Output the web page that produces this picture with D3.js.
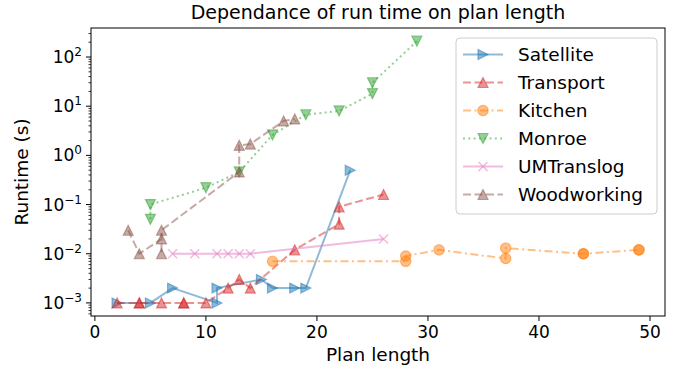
<!DOCTYPE html>
<html><head><meta charset="utf-8">
<script src="https://cdn.jsdelivr.net/npm/d3@7"></script>
<style>body{margin:0;background:#fff}svg{font-family:"DejaVu Sans",sans-serif}</style>
</head><body><svg id="c" width="683" height="373"></svg>
<script>
const seriesNames = ["Satellite","Transport","Kitchen","Monroe","UMTranslog","Woodworking"];
const satellite = [[2,0.001],[5,0.001],[7,0.002],[11,0.001],[11,0.002],[15,0.003],[16,0.002],[18,0.002],[19,0.002],[23,0.5]];
const transport = [[2,0.001],[4,0.001],[4,0.001],[6,0.001],[8,0.001],[8,0.001],[10,0.001],[12,0.002],[13,0.003],[14,0.002],[18,0.012],[22,0.04],[22,0.09],[26,0.16]];
const kitchen = [[16,0.007],[28,0.007],[28,0.009],[31,0.012],[37,0.008],[37,0.013],[44,0.01],[44,0.01],[49,0.012],[49,0.012]];
const monroe = [[5,0.05],[5,0.1],[10,0.22],[13,0.46],[16,2.6],[19,6.7],[22,8],[25,18],[25,30],[29,210]];
const umtranslog = [[7,0.01],[9,0.01],[11,0.01],[12,0.01],[13,0.01],[14,0.01],[26,0.02]];
const woodworking = [[3,0.03],[4,0.01],[6,0.02],[6,0.01],[6,0.03],[13,0.46],[13,1.6],[14,1.7],[17,5],[18,5.5]];
const xTicks = [0,10,20,30,40,50];
const yTicks = [-3,-2,-1,0,1,2];
const colors = ["#1f77b4","#d62728","#ff7f0e","#2ca02c","#e377c2","#8c564b"];
const dashes = [null,"8,3.5","8,3.5,2,3.5","2,3.3",null,"8,3.5"];
const markers = ["right","up","circle","down","x","up"];
const allData = [satellite,transport,kitchen,monroe,umtranslog,woodworking];

const svg = d3.select("#c");
const L=91, R=665, T=28, B=316;
const x = d3.scaleLinear().domain([-0.35,51.35]).range([L,R]);
const y = d3.scaleLog().domain([Math.pow(10,-3.266),Math.pow(10,2.59)]).range([B,T]);

// title
svg.append("text").attr("x",(L+R)/2).attr("y",19).attr("text-anchor","middle")
  .attr("font-size",19).text("Dependance of run time on plan length");

const plot = svg.append("g");
const clip = svg.append("clipPath").attr("id","clp").append("rect").attr("x",L).attr("y",T).attr("width",R-L).attr("height",B-T);

function markerPath(type, s){
  if(type==="up") return `M0,${-s}L${-s},${s}L${s},${s}Z`;
  if(type==="down") return `M0,${s}L${-s},${-s}L${s},${-s}Z`;
  if(type==="right") return `M${s},0L${-s},${-s}L${-s},${s}Z`;
  if(type==="x") return `M${-s},${-s}L${s},${s}M${-s},${s}L${s},${-s}`;
  return null;
}
function drawMarker(g, type, col, cx, cy){
  if(type==="circle"){
    g.append("circle").attr("cx",cx).attr("cy",cy).attr("r",5.2)
     .attr("fill",col).attr("fill-opacity",0.5).attr("stroke",col).attr("stroke-opacity",0.5).attr("stroke-width",1.2);
  } else if(type==="x"){
    g.append("path").attr("transform",`translate(${cx},${cy})`).attr("d",markerPath("x",4.5))
     .attr("fill","none").attr("stroke",col).attr("stroke-opacity",0.5).attr("stroke-width",1.5);
  } else {
    g.append("path").attr("transform",`translate(${cx},${cy})`).attr("d",markerPath(type,5))
     .attr("fill",col).attr("fill-opacity",0.5).attr("stroke",col).attr("stroke-opacity",0.5).attr("stroke-width",1.2);
  }
}

const line = d3.line().x(d=>x(d[0])).y(d=>y(d[1]));
allData.forEach((data,i)=>{
  const g = plot.append("g").attr("clip-path","url(#clp)");
  g.append("path").attr("d",line(data)).attr("fill","none").attr("stroke",colors[i])
   .attr("stroke-opacity",0.5).attr("stroke-width",2).attr("stroke-dasharray",dashes[i]);
  data.forEach(d=>drawMarker(g, markers[i], colors[i], x(d[0]), y(d[1])));
});

// frame
svg.append("rect").attr("x",L).attr("y",T).attr("width",R-L).attr("height",B-T)
  .attr("fill","none").attr("stroke","#000").attr("stroke-width",1);

// x axis
const xa = svg.append("g").attr("transform",`translate(0,${B})`);
xTicks.forEach(t=>{
  xa.append("line").attr("x1",x(t)).attr("x2",x(t)).attr("y1",0).attr("y2",5).attr("stroke","#000");
  xa.append("text").attr("x",x(t)).attr("y",22).attr("text-anchor","middle").attr("font-size",17).text(t);
});
svg.append("text").attr("x",(L+R)/2).attr("y",361).attr("text-anchor","middle").attr("font-size",18.5).text("Plan length");

// y axis
const ya = svg.append("g").attr("transform",`translate(${L},0)`);
for(let e=-4;e<=3;e++){
  for(let m=2;m<=9;m++){
    const v=m*Math.pow(10,e);
    const yy=y(v);
    if(yy>=T-0.5 && yy<=B+0.5) ya.append("line").attr("x1",0).attr("x2",-2.5).attr("y1",yy).attr("y2",yy).attr("stroke","#000").attr("stroke-width",0.8);
  }
}
yTicks.forEach(e=>{
  const yy=y(Math.pow(10,e));
  ya.append("line").attr("x1",0).attr("x2",-5).attr("y1",yy).attr("y2",yy).attr("stroke","#000");
  const tx = ya.append("text").attr("x",-9).attr("y",yy+6).attr("text-anchor","end").attr("font-size",17);
  tx.append("tspan").text("10");
  tx.append("tspan").attr("dy",-7).attr("font-size",12).text(e<0?"\u2212"+(-e):String(e));
});
svg.append("text").attr("transform",`translate(28,${(T+B)/2}) rotate(-90)`).attr("text-anchor","middle")
  .attr("font-size",18.5).text("Runtime (s)");

// legend
const lg = svg.append("g");
lg.append("rect").attr("x",456).attr("y",38).attr("width",201).attr("height",176).attr("rx",4)
  .attr("fill","#fff").attr("fill-opacity",0.8).attr("stroke","#cccccc").attr("stroke-width",1);
seriesNames.forEach((n,i)=>{
  const yy = 54.5 + i*28;
  lg.append("line").attr("x1",463).attr("x2",503).attr("y1",yy).attr("y2",yy).attr("stroke",colors[i])
    .attr("stroke-opacity",0.5).attr("stroke-width",2).attr("stroke-dasharray",dashes[i]);
  drawMarker(lg, markers[i], colors[i], 483, yy);
  lg.append("text").attr("x",518).attr("y",yy+6.5).attr("font-size",18.5).text(n);
});
</script></body></html>
